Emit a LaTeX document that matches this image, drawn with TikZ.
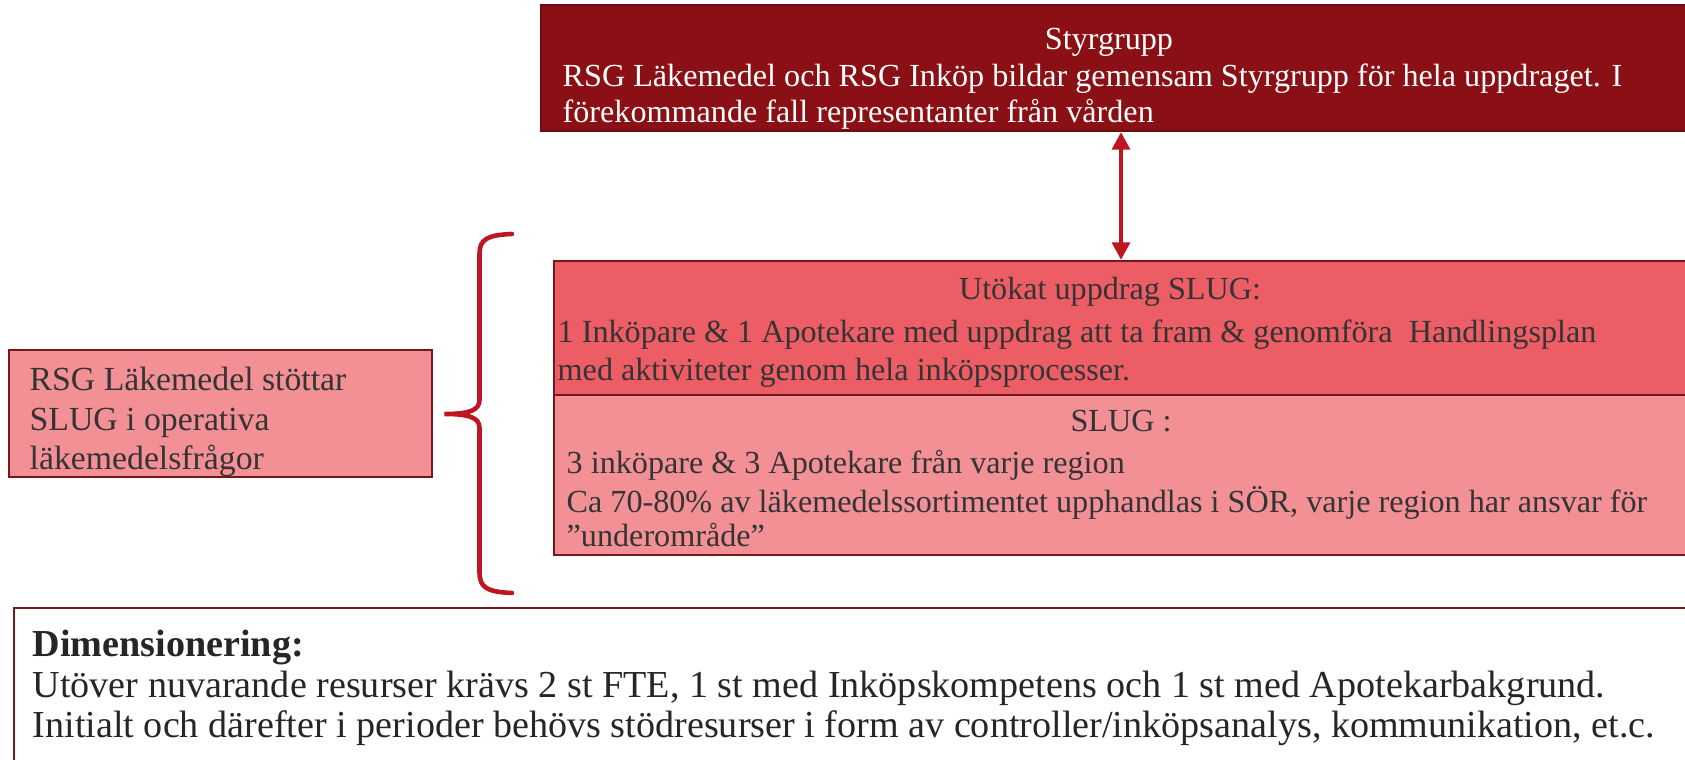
\documentclass[tikz,border=0pt]{standalone}
\usepackage{fontspec}
\setmainfont{Liberation Serif}
\usetikzlibrary{arrows.meta}

\definecolor{styrred}{RGB}{139,16,22}
\definecolor{styrline}{RGB}{110,12,16}
\definecolor{utokred}{RGB}{237,93,101}
\definecolor{slugpink}{RGB}{242,144,150}
\definecolor{boxline}{RGB}{120,22,28}
\definecolor{textgrey}{RGB}{52,52,52}
\definecolor{arrowred}{RGB}{190,22,32}

\begin{document}
\begin{tikzpicture}[
    box/.style={draw=boxline, line width=0.6pt, rectangle, inner sep=0pt},
    txt/.style={text=textgrey, font=\fontsize{9.15}{10}\selectfont, inner sep=0pt, anchor=base west},
    ttl/.style={txt, anchor=base},
    dimtxt/.style={txt, text=black!85, font=\fontsize{10.85}{12}\selectfont},
  ]
    \useasboundingbox (0,0) rectangle (16.85,7.6);

    % Styrgrupp on top
    \node[box, fill=styrred, draw=styrline, minimum width=11.60cm, minimum height=1.26cm] (styr) at (11.21,6.92) {};
    \node[ttl, text=white] (styrttl) at (11.09,7.10) {Styrgrupp};
    \node[txt, text=white] (styr1) at (5.62,6.73) {RSG Läkemedel och RSG Inköp bildar gemensam Styrgrupp för hela uppdraget. I};
    \node[txt, text=white] (styr2) at (5.62,6.37) {förekommande fall representanter från vården};

    % Extended assignment
    \node[box, fill=utokred, minimum width=11.34cm, minimum height=1.34cm] (utok) at (11.21,4.32) {};
    \node[ttl] (utokttl) at (11.10,4.60) {Utökat uppdrag SLUG:};
    \node[txt] (utok1) at (5.57,4.17) {1 Inköpare \& 1 Apotekare med uppdrag att ta fram \& genomföra\ \ Handlingsplan};
    \node[txt] (utok2) at (5.57,3.79) {med aktiviteter genom hela inköpsprocesser.};

    % SLUG
    \node[box, fill=slugpink, minimum width=11.34cm, minimum height=1.60cm] (slug) at (11.21,2.85) {};
    \node[ttl] (slugttl) at (11.21,3.28) {SLUG :};
    \node[txt] (slug1) at (5.66,2.86) {3 inköpare \& 3 Apotekare från varje region};
    \node[txt] (slug2) at (5.66,2.47) {Ca 70-80\% av läkemedelssortimentet upphandlas i SÖR, varje region har ansvar för};
    \node[txt] (slug3) at (5.66,2.13) {”underområde”};

    % link between Styrgrupp and the extended assignment
    \draw[arrowred, line width=1.4pt, {Triangle[width=5pt,length=5pt]}-{Triangle[width=5pt,length=5pt]}] (styr.south) -- (utok.north);

    % support box on the left
    \node[box, fill=slugpink, minimum width=4.23cm, minimum height=1.27cm] (stod) at (2.205,3.465) {};
    \node[txt, font=\fontsize{9.6}{10}\selectfont] (stod1) at (0.29,3.69) {RSG Läkemedel stöttar};
    \node[txt, font=\fontsize{9.6}{10}\selectfont] (stod2) at (0.29,3.29) {SLUG i operativa};
    \node[txt, font=\fontsize{9.6}{10}\selectfont] (stod3) at (0.29,2.90) {läkemedelsfrågor};

    % brace
    \coordinate (bracetop) at (5.12,5.26);
    \coordinate (bracetip) at (4.445,3.46);
    \coordinate (bracebot) at (5.12,1.67);
    \draw[arrowred, line width=1.3pt, line cap=round]
      (bracetop) .. controls (4.86,5.25) and (4.795,5.20) .. (4.795,5.06)
      -- (4.795,3.60) .. controls (4.795,3.50) and (4.70,3.46) .. (bracetip)
      .. controls (4.70,3.46) and (4.795,3.42) .. (4.795,3.32)
      -- (4.795,1.88) .. controls (4.795,1.73) and (4.86,1.68) .. (bracebot);

    % Dimensionering
    \node[box, fill=white, minimum width=17.00cm, minimum height=1.80cm, anchor=north west] (dim) at (0.13,1.53) {};
    \node[dimtxt, font=\fontsize{10.85}{12}\selectfont\bfseries] (dim0) at (0.32,1.03) {Dimensionering:};
    \node[dimtxt] (dim1) at (0.32,0.62) {Utöver nuvarande resurser krävs 2 st FTE, 1 st med Inköpskompetens och 1 st med Apotekarbakgrund.};
    \node[dimtxt] (dim2) at (0.32,0.22) {Initialt och därefter i perioder behövs stödresurser i form av controller/inköpsanalys, kommunikation, et.c.};
\end{tikzpicture}
\end{document}
